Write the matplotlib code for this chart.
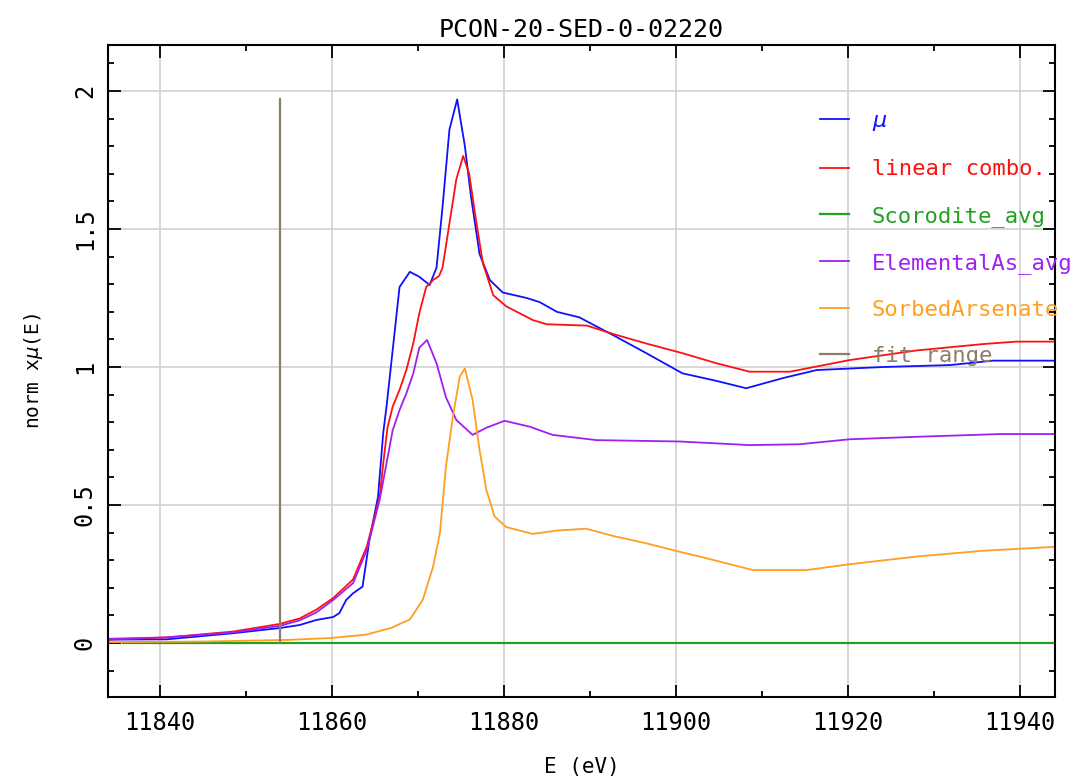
import matplotlib
matplotlib.use("Agg")
import matplotlib.pyplot as plt
from matplotlib.ticker import MultipleLocator

plt.rcParams['font.family'] = ['DejaVu Sans Mono', 'DejaVu Sans']
plt.rcParams['mathtext.fontset'] = 'dejavusans'

#------------------------------------------------------------------------------
#                   data
#------------------------------------------------------------------------------
title = "PCON-20-SED-0-02220"

# mu (measured spectrum)
e_mu = [11834, 11840.8, 11848.5, 11854, 11856.3, 11858.2, 11860.2, 11860.9, 11861.7,
        11862.5, 11863.6, 11864.4, 11865.4, 11866.0, 11866.4, 11867.1, 11867.9,
        11869.1, 11870.2, 11871.4, 11872.2, 11872.9, 11873.7, 11874.6, 11875.5,
        11876.2, 11877.2, 11878.4, 11879.9, 11882.7, 11884.2, 11886.2, 11888.8,
        11892.7, 11896.6, 11900.8, 11904.7, 11908.2, 11912.5, 11916.4, 11924.1,
        11931.9, 11936.9, 11944]
mu = [0.012, 0.013, 0.035, 0.054, 0.065, 0.083, 0.094, 0.108, 0.156,
      0.18, 0.204, 0.373, 0.53, 0.76, 0.86, 1.06, 1.29,
      1.345, 1.327, 1.297, 1.36, 1.58, 1.86, 1.97, 1.80,
      1.62, 1.41, 1.315, 1.27, 1.25, 1.235, 1.20, 1.18,
      1.116, 1.05, 0.977, 0.95, 0.923, 0.96, 0.989, 1.0,
      1.007, 1.023, 1.023]

# linear combination fit
e_lc = [11834, 11840.8, 11848.5, 11854, 11856.3, 11858.2, 11860.2, 11862.5, 11864.1,
        11865.6, 11866.0, 11866.5, 11867.1, 11867.9, 11868.7, 11869.5, 11870.2,
        11871.0, 11871.8, 11872.5, 11872.9, 11873.7, 11874.5, 11875.3, 11876.0,
        11876.8, 11877.6, 11878.8, 11880.3, 11883.4, 11885.0, 11889.7, 11892.7,
        11896.6, 11900.8, 11904.7, 11908.6, 11913.3, 11920.2, 11928, 11935.7,
        11939.6, 11944]
lc = [0.012, 0.02, 0.041, 0.069, 0.089, 0.12, 0.163, 0.23, 0.35,
      0.53, 0.65, 0.78, 0.856, 0.917, 0.99, 1.086, 1.195,
      1.29, 1.315, 1.33, 1.36, 1.52, 1.68, 1.765, 1.70,
      1.53, 1.375, 1.26, 1.22, 1.17, 1.155, 1.15, 1.12,
      1.085, 1.05, 1.014, 0.983, 0.983, 1.025, 1.06, 1.083,
      1.092, 1.092]

# standards
e_scor = [11835.7, 11944]
scor = [0.0, 0.0]

e_el = [11834, 11840.8, 11848.5, 11854, 11856.3, 11858.2, 11860.2, 11862.5, 11864.1,
        11865.6, 11867.1, 11867.9, 11868.7, 11869.5, 11870.2, 11871.1, 11872.2,
        11873.3, 11874.5, 11876.4, 11878.0, 11880.1, 11883.0, 11885.7, 11890.8,
        11900.5, 11908.6, 11914.4, 11920.2, 11928, 11937.7, 11944]
el = [0.015, 0.02, 0.038, 0.062, 0.082, 0.11, 0.156, 0.217, 0.337,
      0.52, 0.77, 0.844, 0.905, 0.977, 1.07, 1.098, 1.014,
      0.89, 0.808, 0.754, 0.78, 0.805, 0.784, 0.754, 0.735,
      0.73, 0.717, 0.72, 0.738, 0.747, 0.757, 0.757]

e_so = [11834, 11845, 11855, 11860, 11864, 11867, 11868, 11869.1, 11870.6, 11871.8,
        11872.6, 11873.3, 11874.1, 11874.9, 11875.5, 11876.4, 11877.2, 11878.0,
        11878.95, 11880.3, 11883.4, 11886.1, 11889.6, 11892.7, 11896.6, 11900.5,
        11902.8, 11909, 11915.2, 11920.2, 11928, 11935.7, 11944]
so = [0.003, 0.005, 0.011, 0.018, 0.03, 0.055, 0.07, 0.085, 0.156, 0.276,
      0.40, 0.64, 0.82, 0.965, 0.995, 0.88, 0.70, 0.554,
      0.458, 0.42, 0.395, 0.407, 0.414, 0.388, 0.361, 0.33,
      0.313, 0.264, 0.264, 0.285, 0.313, 0.334, 0.348]

fit_emin = 11854
labels = [r'$\mu$', 'linear combo.', 'Scorodite_avg', 'ElementalAs_avg',
          'SorbedArsenate', 'fit range']
colors = ['#1010ff', '#ff1010', '#22a022', '#a020f0', '#ff9f20', '#8b7e66']

#------------------------------------------------------------------------------
#                   plot
#------------------------------------------------------------------------------
fig = plt.figure(figsize=(10.71, 7.80), dpi=100)
ax = fig.add_axes([0.1008, 0.1064, 0.8842, 0.8359])

ax.plot(e_mu, mu, color=colors[0], lw=1.3, label=labels[0])
ax.plot(e_lc, lc, color=colors[1], lw=1.3, label=labels[1])
ax.plot(e_scor, scor, color=colors[2], lw=1.6, label=labels[2])
ax.plot(e_el, el, color=colors[3], lw=1.3, label=labels[3])
ax.plot(e_so, so, color=colors[4], lw=1.3, label=labels[4])
ax.plot([fit_emin, fit_emin], [0, max(mu)], color=colors[5], lw=1.6, label=labels[5])

ax.set_xlim(11834, 11944.1)
ax.set_ylim(-0.196, 2.167)
ax.xaxis.set_major_locator(MultipleLocator(20))
ax.xaxis.set_minor_locator(MultipleLocator(10))
ax.yaxis.set_major_locator(MultipleLocator(0.5))
ax.yaxis.set_minor_locator(MultipleLocator(0.1))
ax.yaxis.set_major_formatter(plt.FuncFormatter(lambda v, p: f"{v:g}"))

ax.grid(True, which='major', color='#d4d4d4', lw=1.3)
ax.set_axisbelow(True)
for s in ax.spines.values():
    s.set_linewidth(1.5)

ax.tick_params(which='both', direction='in', top=True, right=True, width=1.3)
ax.tick_params(which='major', length=9)
ax.tick_params(which='minor', length=4)
ax.tick_params(axis='x', labelsize=17, pad=10)
ax.tick_params(axis='y', labelsize=17, pad=8, labelrotation=90)
for t in ax.get_yticklabels():
    t.set_va('center')

ax.set_title(title, fontsize=18, pad=6)
ax.set_xlabel('E (eV)', fontsize=15, labelpad=16)
ax.set_ylabel(r'norm x$\mu$(E)', fontsize=14, labelpad=20)

leg = ax.legend(loc='upper left', bbox_to_anchor=(0.743, 0.912), frameon=False,
                fontsize=16, handlelength=1.3, handletextpad=1.0,
                labelspacing=1.18, labelcolor='linecolor', borderaxespad=0)

fig.savefig('out.png', dpi=100)
